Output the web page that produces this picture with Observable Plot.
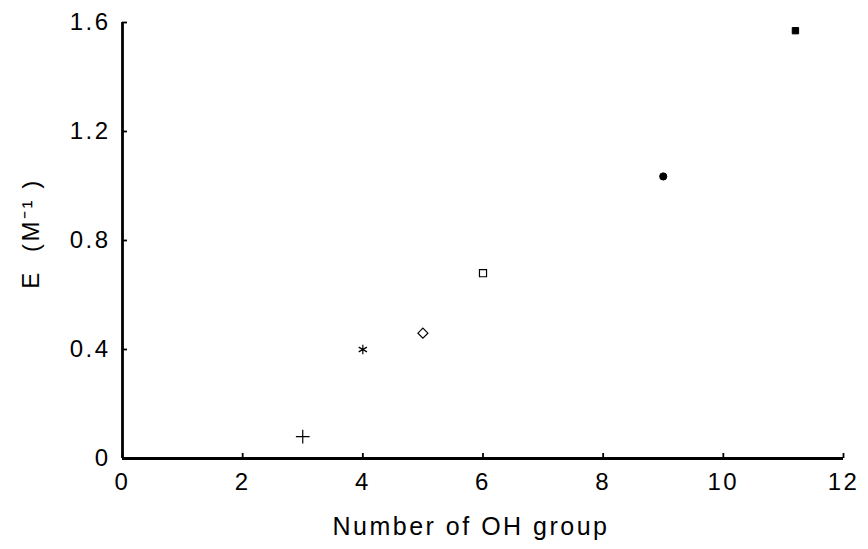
<!DOCTYPE html>
<html>
<head>
<meta charset="utf-8">
<script src="https://cdn.jsdelivr.net/npm/d3@7"></script>
<script src="https://cdn.jsdelivr.net/npm/@observablehq/plot@0.6"></script>
<style>
  html, body { margin: 0; padding: 0; background: #fff; }
  #chart svg { display: block; }
  #chart svg text { letter-spacing: 2.5px; }
</style>
</head>
<body>
<div id="chart"></div>
<script>
const ohGroups = [3, 4, 5, 6, 9, 11.2];
const eValues = [0.08, 0.40, 0.46, 0.68, 1.035, 1.57];
const symbols = ["plus", "asterisk", "diamond2", "square2", "circle", "square"];
const xTicks = [0, 2, 4, 6, 8, 10, 12];
const yTicks = [0, 0.4, 0.8, 1.2, 1.6];
const yTickLabels = ["0", "0.4", "0.8", "1.2", "1.6"];
const xLabel = "Number of OH group";
const yLabel = "E  (M\u207B\u00B9 )";

const data = ohGroups.map((x, i) => ({x, y: eValues[i], s: symbols[i]}));
const filled = new Set(["circle", "square"]);

const chart = Plot.plot({
  width: 868,
  height: 549,
  marginLeft: 122,
  marginTop: 22,
  marginRight: 25,
  marginBottom: 91,
  style: {fontFamily: "'Liberation Sans', Arial, sans-serif", background: "#fff", color: "#000"},
  x: {domain: [0, 12]},
  y: {domain: [0, 1.6]},
  symbol: {type: "identity"},
  marks: [
    Plot.axisX({ticks: xTicks, tickSize: -5, tickPadding: 19, fontSize: 24, label: null, tickFormat: d => String(d), strokeWidth: 1.8}),
    Plot.axisY({ticks: yTicks, tickSize: -5, tickPadding: 17, fontSize: 24, label: null, tickFormat: d => yTickLabels[yTicks.indexOf(d)], strokeWidth: 1.8}),
    Plot.ruleY([0], {strokeWidth: 2.8}),
    Plot.ruleX([0], {strokeWidth: 2.8}),
    Plot.dot(data.filter(d => !filled.has(d.s)), {x: "x", y: "y", symbol: "s", r: 4.5, stroke: "#000", strokeWidth: 1.2, fill: "none"}),
    Plot.dot(data.filter(d => filled.has(d.s)), {x: "x", y: "y", symbol: "s", r: 3.6, stroke: "#000", strokeWidth: 1, fill: "#000"}),
    Plot.text([xLabel], {frameAnchor: "bottom", dx: -12, dy: 76, fontSize: 25, fill: "#000", textAnchor: "middle"}),
    Plot.text([yLabel], {frameAnchor: "left", dx: -91, dy: -7, rotate: -90, fontSize: 24, fill: "#000", textAnchor: "middle"})
  ]
});
document.getElementById("chart").appendChild(chart);
</script>
</body>
</html>
